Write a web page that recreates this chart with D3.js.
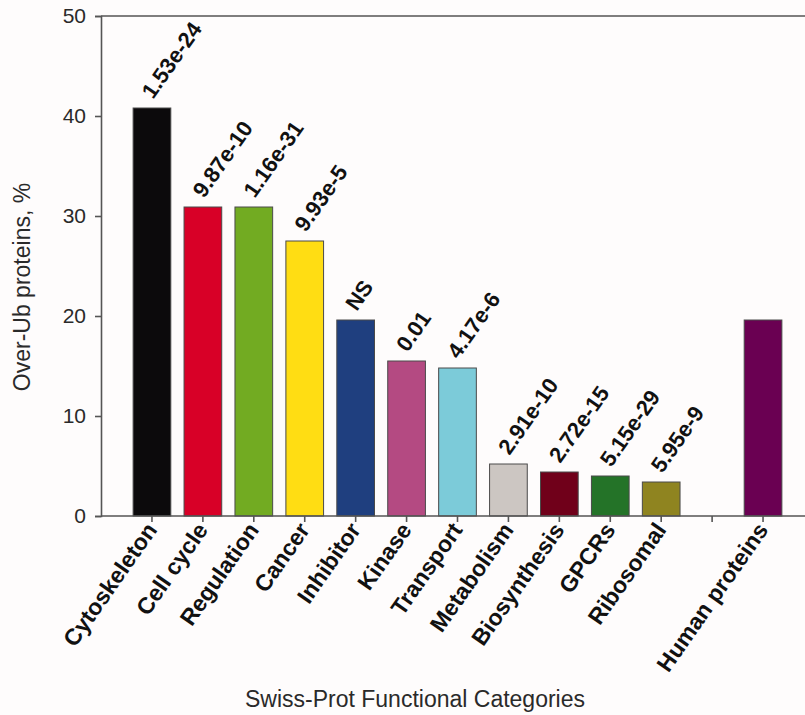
<!DOCTYPE html>
<html>
<head>
<meta charset="utf-8">
<script src="https://cdn.jsdelivr.net/npm/d3@7"></script>
<style>
  html, body { margin: 0; padding: 0; background: #fefcfc; }
  svg { display: block; }
  text { font-family: "Liberation Sans", Arial, Helvetica, sans-serif; }
</style>
</head>
<body>
<svg id="chart" width="805" height="715"></svg>
<script>
// Share of over-ubiquitinated proteins per Swiss-Prot functional category
const categories = ["Cytoskeleton", "Cell cycle", "Regulation", "Cancer", "Inhibitor", "Kinase",
  "Transport", "Metabolism", "Biosynthesis", "GPCRs", "Ribosomal", "", "Human proteins"];
const values = [40.8, 30.9, 30.9, 27.5, 19.6, 15.5, 14.8, 5.2, 4.4, 4.0, 3.4, null, 19.6];
const pLabels = ["1.53e-24", "9.87e-10", "1.16e-31", "9.93e-5", "NS", "0.01", "4.17e-6",
  "2.91e-10", "2.72e-15", "5.15e-29", "5.95e-9", "", ""];
const colors = ["#0c0a0c", "#d80027", "#72ab22", "#ffdd13", "#1f3f7f", "#b44a82", "#7ccbd9",
  "#ccc6c2", "#70001a", "#247328", "#8f8420", "none", "#6a0052"];
const yTicks = [0, 10, 20, 30, 40, 50];

const data = categories.map((c, i) => ({ key: i, name: c, value: values[i], p: pLabels[i], color: colors[i] }));

const svg = d3.select("#chart");
const plotLeft = 101, plotRight = 805, plotTop = 16, plotBottom = 516;

const x = d3.scaleBand()
  .domain(data.map(d => d.key))
  .range([126.5, 788.5])
  .paddingInner(0.26)
  .paddingOuter(0.13);

const y = d3.scaleLinear().domain([0, 50]).range([plotBottom, plotTop]);

const axisColor = "#555";

// top frame line runs to the right edge
svg.append("line").attr("x1", plotLeft).attr("x2", plotRight).attr("y1", y(50)).attr("y2", y(50))
  .attr("stroke", axisColor).attr("stroke-width", 1.6);

// bars
const bars = data.filter(d => d.value !== null);
svg.append("g").selectAll("rect").data(bars).join("rect")
  .attr("x", d => x(d.key))
  .attr("y", d => y(d.value))
  .attr("width", x.bandwidth())
  .attr("height", d => y(0) - y(d.value))
  .attr("fill", d => d.color)
  .attr("stroke", "#4a4a4a")
  .attr("stroke-width", 1);

// y axis
const yAxis = svg.append("g")
  .attr("transform", `translate(${plotLeft},0)`)
  .call(d3.axisLeft(y).tickValues(yTicks).tickSize(6).tickPadding(9));
yAxis.select(".domain").attr("stroke", axisColor).attr("stroke-width", 1.6);
yAxis.selectAll(".tick line").attr("stroke", axisColor).attr("stroke-width", 1.6);
yAxis.selectAll(".tick text").attr("font-size", 21).attr("fill", "#2a2a2a")
  .style("font-family", "'Liberation Sans', Arial, sans-serif");

// x axis
const xAxis = svg.append("g")
  .attr("transform", `translate(0,${plotBottom})`)
  .call(d3.axisBottom(x).tickSize(6).tickFormat(() => ""));
xAxis.select(".domain").attr("d", `M${plotLeft},0H${plotRight}`)
  .attr("stroke", axisColor).attr("stroke-width", 1.6);
xAxis.selectAll(".tick line").attr("stroke", axisColor).attr("stroke-width", 1.6);

// rotated category names
const angle = -55;
svg.append("g").selectAll("text").data(data).join("text")
  .attr("transform", d => `translate(${x(d.key) + x.bandwidth() / 2 + 6},${plotBottom + 14}) rotate(${angle})`)
  .attr("text-anchor", "end")
  .attr("font-size", 23)
  .attr("font-weight", "bold")
  .attr("fill", "#111")
  .text(d => d.name);

// p-value labels above bars
svg.append("g").selectAll("text").data(bars.filter(d => d.p)).join("text")
  .attr("transform", d => `translate(${x(d.key) + x.bandwidth() / 2 + 1},${y(d.value) - 8}) rotate(${angle})`)
  .attr("text-anchor", "start")
  .attr("font-size", 22)
  .attr("font-weight", "bold")
  .attr("fill", "#111")
  .text(d => d.p);

// axis titles
svg.append("text")
  .attr("transform", `translate(30,287) rotate(-90)`)
  .attr("text-anchor", "middle")
  .attr("font-size", 23)
  .attr("fill", "#2a2a2a")
  .text("Over-Ub proteins, %");

svg.append("text")
  .attr("x", 415).attr("y", 707)
  .attr("text-anchor", "middle")
  .attr("font-size", 23)
  .attr("fill", "#2a2a2a")
  .text("Swiss-Prot Functional Categories");
</script>
</body>
</html>
